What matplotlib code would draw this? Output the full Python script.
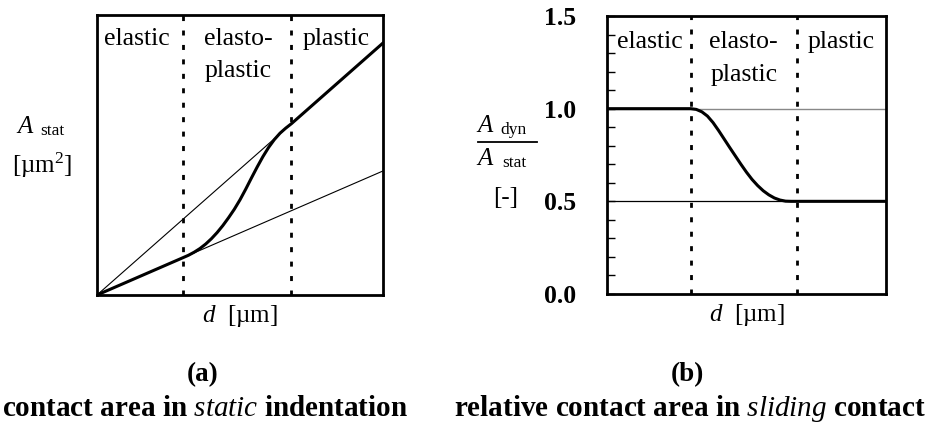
import numpy as np
import matplotlib
matplotlib.use('Agg')
import matplotlib.pyplot as plt
from matplotlib.lines import Line2D

plt.rcParams['font.family'] = ['Liberation Serif', 'DejaVu Serif']
plt.rcParams['mathtext.fontset'] = 'custom'
plt.rcParams['mathtext.rm'] = 'Liberation Serif'
plt.rcParams['mathtext.it'] = 'Liberation Serif:italic'
plt.rcParams['mathtext.bf'] = 'Liberation Serif:bold'

W, H = 928, 423

# regime boundaries (normalised indentation depth)
bounds = [0.30, 0.68]
regimes = ['elastic', 'elasto-\nplastic', 'plastic']

# (a) static contact area
d_lines = [0.0, 1.0]
a_elastic = [0.0, 0.443]
a_plastic = [0.0, 0.90]
d_stat = [0.0, 0.30, 0.32, 0.34, 0.36, 0.38, 0.40, 0.42, 0.44, 0.46, 0.48,
          0.50, 0.52, 0.54, 0.56, 0.58, 0.60, 0.62, 0.64, 0.66, 0.68, 1.0]
a_stat = [0.0, 0.133, 0.142, 0.153, 0.166, 0.182, 0.201, 0.223, 0.248,
          0.276, 0.306, 0.340, 0.378, 0.418, 0.457, 0.494, 0.527, 0.555,
          0.578, 0.596, 0.612, 0.90]

# (b) ratio dynamic / static contact area
d_rel = [0.0, 0.30, 0.32, 0.34, 0.36, 0.38, 0.40, 0.42, 0.44, 0.46, 0.48,
         0.50, 0.52, 0.54, 0.56, 0.58, 0.60, 0.62, 0.64, 0.66, 0.68, 1.0]
a_rel = [1.0, 1.0, 0.996, 0.983, 0.960, 0.925, 0.882, 0.836, 0.790, 0.745,
         0.700, 0.657, 0.618, 0.585, 0.557, 0.535, 0.518, 0.507, 0.501,
         0.50, 0.50, 0.50]
rel_ticks = [0.0, 0.5, 1.0, 1.5]


def px(x, y):
    return x / W, 1 - y / H


fig = plt.figure(figsize=(W / 100, H / 100), dpi=100)
ax1 = fig.add_axes([97 / W, 1 - 295 / H, 286 / W, 280 / H])
ax2 = fig.add_axes([607 / W, 1 - 294 / H, 279 / W, 278 / H])

dots = dict(color='black', lw=2.0, linestyle=(0, (1.8, 3.4)))

# --- (a) ---
ax1.plot(d_lines, a_plastic, color='black', lw=0.8)
ax1.plot(d_lines, a_elastic, color='black', lw=0.8)
ax1.plot(d_stat, a_stat, color='black', lw=2.2, solid_joinstyle='round')
for b in bounds:
    ax1.axvline(b, **dots)
ax1.set_xlim(0, 1)
ax1.set_ylim(0, 1)
ax1.set_xticks([])
ax1.set_yticks([])
ax1.set_xlabel(r'$d$  [µm]', fontsize=18, labelpad=6)

lx = [0.14, 0.493, 0.836]
for x, t in zip(lx, regimes):
    ax1.text(x, 0.955, t, ha='center', va='top', fontsize=18.5,
             linespacing=1.6, transform=ax1.transAxes)

# --- (b) ---
ax2.axhline(1.0, color='#888888', lw=1.0)
ax2.axhline(0.5, color='black', lw=0.9)
ax2.plot(d_rel, a_rel, color='black', lw=2.2, solid_joinstyle='round')
for b in bounds:
    ax2.axvline(b, **dots)
ax2.set_xlim(0, 1)
ax2.set_ylim(0, 1.5)
ax2.set_xticks([])
ax2.set_yticks(rel_ticks)
ax2.set_yticklabels(['%.1f' % v for v in rel_ticks], fontsize=18.5,
                    fontweight='bold')
ax2.set_yticks(np.arange(0.1, 1.5, 0.1), minor=True)
ax2.tick_params(axis='y', which='both', direction='in', length=6,
                width=1, pad=22)
ax2.set_xlabel(r'$d$  [µm]', fontsize=18, labelpad=6)

rx = [0.154, 0.49, 0.839]
for x, t in zip(rx, regimes):
    ax2.text(x, 0.945, t, ha='center', va='top', fontsize=18.5,
             linespacing=1.65, transform=ax2.transAxes)

for ax in (ax1, ax2):
    for s in ax.spines.values():
        s.set_linewidth(2.0)

# y labels
fig.text(*px(17, 133), 'A', fontsize=18, style='italic',
         ha='left', va='baseline')
fig.text(*px(40, 135), 'stat', fontsize=12.5, ha='left', va='baseline')
fig.text(*px(42, 165), r'[µm$^{\rm 2}$]', fontsize=18,
         ha='center', va='center')

fig.text(*px(477, 132), 'A', fontsize=18, style='italic',
         ha='left', va='baseline')
fig.text(*px(500, 134), 'dyn', fontsize=12.5, ha='left', va='baseline')
fig.add_artist(Line2D([478 / W, 537 / W], [1 - 142 / H, 1 - 142 / H],
                      color='black', lw=1.3))
fig.text(*px(477, 165), 'A', fontsize=18, style='italic',
         ha='left', va='baseline')
fig.text(*px(502, 167), 'stat', fontsize=12.5, ha='left', va='baseline')
fig.text(*px(506, 198), '[-]', fontsize=18, ha='center', va='center')

# captions
fig.text(*px(203, 375), '(a)', fontsize=19.5, fontweight='bold',
         ha='center', va='center')
fig.text(*px(205, 408), r'contact area in $\it{static}$ indentation',
         fontsize=21, fontweight='bold', ha='center', va='center')
fig.text(*px(687, 375), '(b)', fontsize=19.5, fontweight='bold',
         ha='center', va='center')
fig.text(*px(690, 408), r'relative contact area in $\it{sliding}$ contact',
         fontsize=21, fontweight='bold', ha='center', va='center')

fig.savefig('out.png', dpi=100)
